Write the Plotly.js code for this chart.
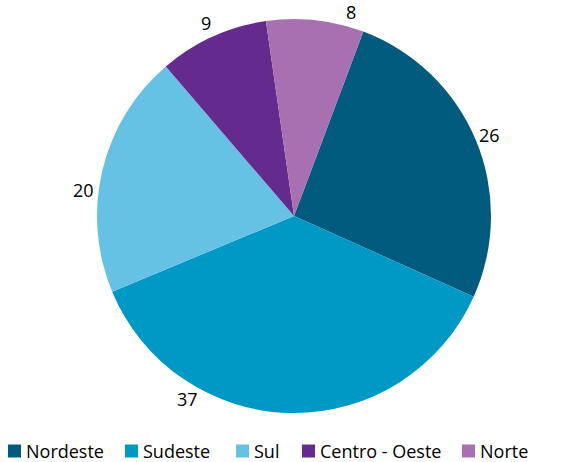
<!DOCTYPE html>
<html>
<head>
<meta charset="utf-8">
<script src="https://cdn.plot.ly/plotly-3.0.1.min.js"></script>
<style>html,body{margin:0;padding:0;background:#fff;}#chart{width:579px;height:462px;}</style>
</head>
<body>
<div id="chart"></div>
<script>
// ---- data ----
const regions = ["Nordeste", "Sudeste", "Sul", "Centro - Oeste", "Norte"];
const shares = [26, 37, 20, 9, 8];
const colors = ["#005b7f", "#0099c5", "#66c2e5", "#652a8e", "#a870b0"];

// ---- layout config (positions / styles) ----
const W = 579, H = 462;
const startAngle = 20.6;                 // degrees clockwise from 12 o'clock
const pieDomain = {x: [0.0156, 1], y: [0.1061, 0.9589]};
const labelRadius = 212;                 // px from centre
const labelAngleNudge = [0, 29.4, -6.4, 0, 9.3];  // manual label placement, degrees
const legendX = [8, 125, 236, 302, 462]; // px, left edge of each legend swatch
const legendY = 451;                     // px, legend row centre
const sw = 13;                           // swatch size px
const fontFam = "Open Sans, Noto Sans, sans-serif";

const trace = {
  type: "pie",
  labels: regions,
  values: shares,
  sort: false,
  direction: "clockwise",
  rotation: startAngle,
  marker: {colors: colors, line: {width: 0}},
  textinfo: "none",
  hoverinfo: "label+value",
  domain: pieDomain,
  showlegend: false
};

// value labels placed around the pie, from the slice angles
const cx = W * (pieDomain.x[0] + pieDomain.x[1]) / 2;
const cy = H * (1 - (pieDomain.y[0] + pieDomain.y[1]) / 2);
const total = shares.reduce((a, b) => a + b, 0);
const annotations = [];
let cum = 0;
shares.forEach((v, i) => {
  const mid = startAngle + (cum + v / 2) / total * 360 + labelAngleNudge[i];
  cum += v;
  const t = mid * Math.PI / 180;
  const px = cx + labelRadius * Math.sin(t);
  const py = cy - labelRadius * Math.cos(t);
  annotations.push({
    xref: "paper", yref: "paper",
    x: px / W, y: 1 - py / H,
    xanchor: "center", yanchor: "middle",
    text: String(v), showarrow: false,
    font: {family: fontFam, size: 18, color: "#000"}
  });
});

// legend row
const shapes = [];
regions.forEach((name, i) => {
  shapes.push({
    type: "rect", xref: "paper", yref: "paper",
    x0: legendX[i] / W, x1: (legendX[i] + sw) / W,
    y0: 1 - (legendY + sw / 2) / H, y1: 1 - (legendY - sw / 2) / H,
    fillcolor: colors[i], line: {width: 0}
  });
  annotations.push({
    xref: "paper", yref: "paper",
    x: (legendX[i] + sw + 3) / W, y: 1 - legendY / H,
    xanchor: "left", yanchor: "middle",
    text: name, showarrow: false,
    font: {family: fontFam, size: 18, color: "#000"}
  });
});

const layout = {
  width: W,
  height: H,
  margin: {l: 0, r: 0, t: 0, b: 0},
  paper_bgcolor: "#fff",
  font: {family: fontFam, color: "#000", size: 18},
  showlegend: false,
  annotations: annotations,
  shapes: shapes
};

Plotly.newPlot("chart", [trace], layout, {displayModeBar: false, staticPlot: true});
</script>
</body>
</html>
